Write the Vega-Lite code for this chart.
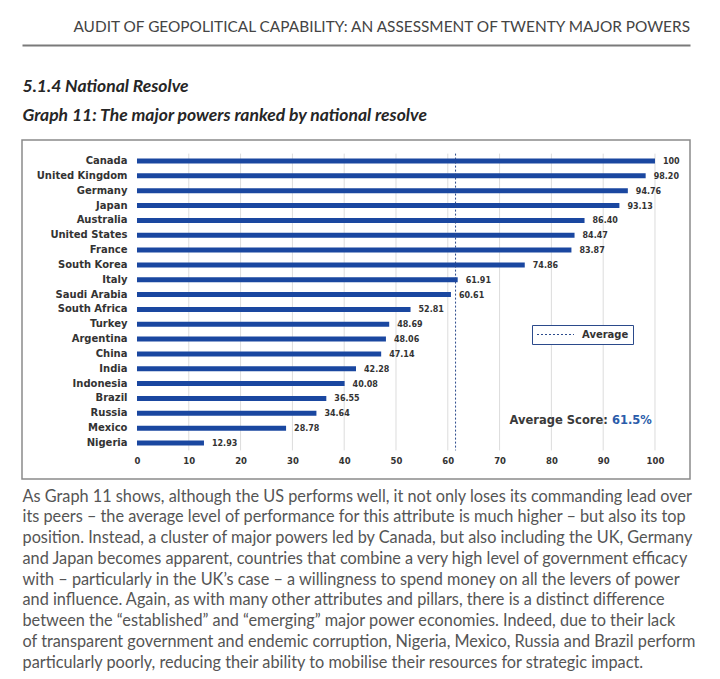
{
  "$schema": "https://vega.github.io/schema/vega-lite/v6.json",
  "width": 668,
  "height": 339,
  "autosize": {"type": "none"},
  "padding": {"left": 22, "top": 140, "right": 30, "bottom": 200},
  "background": "white",
  "config": {
    "view": {"stroke": "#8a8a8a", "strokeWidth": 1.5},
    "font": "DejaVu Sans"
  },
  "title": {
    "text": "AUDIT OF GEOPOLITICAL CAPABILITY: AN ASSESSMENT OF TWENTY MAJOR POWERS",
    "anchor": "end",
    "frame": "group",
    "font": "Lato",
    "fontSize": 15.4,
    "fontWeight": "normal",
    "color": "#444444",
    "baseline": "alphabetic",
    "offset": -2
  },
  "datasets": {
    "scores": [
      {"country": "Canada", "score": 100},
      {"country": "United Kingdom", "score": 98.20},
      {"country": "Germany", "score": 94.76},
      {"country": "Japan", "score": 93.13},
      {"country": "Australia", "score": 86.40},
      {"country": "United States", "score": 84.47},
      {"country": "France", "score": 83.87},
      {"country": "South Korea", "score": 74.86},
      {"country": "Italy", "score": 61.91},
      {"country": "Saudi Arabia", "score": 60.61},
      {"country": "South Africa", "score": 52.81},
      {"country": "Turkey", "score": 48.69},
      {"country": "Argentina", "score": 48.06},
      {"country": "China", "score": 47.14},
      {"country": "India", "score": 42.28},
      {"country": "Indonesia", "score": 40.08},
      {"country": "Brazil", "score": 36.55},
      {"country": "Russia", "score": 34.64},
      {"country": "Mexico", "score": 28.78},
      {"country": "Nigeria", "score": 12.93}
    ],
    "grid": [
      {"tick": 10}, {"tick": 20}, {"tick": 30}, {"tick": 40}, {"tick": 50},
      {"tick": 60}, {"tick": 70}, {"tick": 80}, {"tick": 90}, {"tick": 100}
    ],
    "avg": [{"average": 61.5}]
  },
  "resolve": {"axis": {"x": "independent"}},
  "layer": [
    {
      "data": {"name": "grid"},
      "mark": {"type": "rule", "color": "#dcdcdc", "strokeWidth": 1},
      "encoding": {
        "x": {
          "field": "tick",
          "type": "quantitative",
          "scale": {"domain": [-22.2, 106.76], "nice": false, "zero": false},
          "axis": {
            "orient": "top",
            "offset": 95,
            "domain": true,
            "domainColor": "#7a7a7a",
            "domainWidth": 2,
            "labels": false,
            "ticks": false,
            "grid": false,
            "title": ["5.1.4 National Resolve", "Graph 11: The major powers ranked by national resolve"],
            "titleFont": "Lato",
            "titleFontSize": 17.5,
            "titleFontWeight": "bold",
            "titleFontStyle": "italic",
            "titleColor": "#262626",
            "titleAlign": "left",
            "titleAnchor": "start",
            "titleAngle": 0,
            "titleX": 0,
            "titleY": 46,
            "titleBaseline": "alphabetic",
            "titleLineHeight": 29.5
          }
        },
        "y": {"datum": "Canada", "type": "nominal", "bandPosition": 0},
        "y2": {"datum": "Nigeria", "bandPosition": 1}
      }
    },
    {
      "data": {"name": "scores"},
      "mark": {"type": "bar", "color": "#1a47a0", "height": 5},
      "encoding": {
        "x": {
          "field": "score",
          "type": "quantitative",
          "axis": {
            "orient": "bottom",
            "offset": -22.5,
            "values": [0, 10, 20, 30, 40, 50, 60, 70, 80, 90, 100],
            "domain": false,
            "ticks": false,
            "tickSize": 0,
            "grid": false,
            "labelPadding": 0,
            "labelFont": "DejaVu Sans",
            "labelFontWeight": "bold",
            "labelFontSize": 8.5,
            "labelColor": "#333333",
            "labelBaseline": "top",
            "title": [
              "As Graph 11 shows, although the US performs well, it not only loses its commanding lead over",
              "its peers – the average level of performance for this attribute is much higher – but also its top",
              "position. Instead, a cluster of major powers led by Canada, but also including the UK, Germany",
              "and Japan becomes apparent, countries that combine a very high level of government efficacy",
              "with – particularly in the UK’s case – a willingness to spend money on all the levers of power",
              "and influence. Again, as with many other attributes and pillars, there is a distinct difference",
              "between the “established” and “emerging” major power economies. Indeed, due to their lack",
              "of transparent government and endemic corruption, Nigeria, Mexico, Russia and Brazil perform",
              "particularly poorly, reducing their ability to mobilise their resources for strategic impact."
            ],
            "titleFont": "Lato",
            "titleFontSize": 16.3,
            "titleFontWeight": "normal",
            "titleColor": "#555555",
            "titleAlign": "left",
            "titleAnchor": "start",
            "titleAngle": 0,
            "titleX": 0,
            "titleY": 44.5,
            "titleBaseline": "alphabetic",
            "titleLineHeight": 20.75
          }
        },
        "x2": {"datum": 0},
        "y": {
          "field": "country",
          "type": "nominal",
          "scale": {
            "domain": ["Canada", "United Kingdom", "Germany", "Japan", "Australia", "United States", "France", "South Korea", "Italy", "Saudi Arabia", "South Africa", "Turkey", "Argentina", "China", "India", "Indonesia", "Brazil", "Russia", "Mexico", "Nigeria"],
            "range": [13.6, 310.4],
            "paddingInner": 0,
            "paddingOuter": 0
          },
          "axis": {
            "orient": "left",
            "offset": -105,
            "domain": false,
            "ticks": false,
            "tickSize": 0,
            "grid": false,
            "labelPadding": 0,
            "labelFont": "DejaVu Sans",
            "labelFontWeight": "bold",
            "labelFontSize": 10,
            "labelColor": "#333333",
            "title": null
          }
        }
      }
    },
    {
      "data": {"name": "scores"},
      "mark": {"type": "text", "align": "left", "baseline": "middle", "dx": 8, "dy": 1, "font": "DejaVu Sans", "fontWeight": "bold", "fontSize": 8, "color": "#333333"},
      "encoding": {
        "x": {"field": "score", "type": "quantitative", "axis": null},
        "y": {"field": "country", "type": "nominal"},
        "text": {
          "condition": {"test": "datum.score === 100", "value": "100"},
          "field": "score",
          "type": "quantitative",
          "format": ".2f"
        }
      }
    },
    {
      "data": {"name": "avg"},
      "mark": {"type": "rule", "color": "#2b4a8b", "strokeWidth": 1},
      "encoding": {
        "x": {"field": "average", "type": "quantitative", "axis": null},
        "y": {"datum": "Canada", "type": "nominal", "bandPosition": 0},
        "y2": {"datum": "Nigeria", "bandPosition": 1},
        "strokeDash": {
          "datum": "Average",
          "type": "nominal",
          "scale": {"range": [[2, 2]]},
          "legend": {
            "orient": "none",
            "legendX": 510,
            "legendY": 185,
            "direction": "horizontal",
            "title": null,
            "symbolType": "stroke",
            "symbolSize": 1369,
            "symbolStrokeColor": "#2b4a8b",
            "symbolStrokeWidth": 1.2,
            "clipHeight": 11,
            "labelFont": "DejaVu Sans",
            "labelFontWeight": "bold",
            "labelFontSize": 10,
            "labelColor": "#333333",
            "labelOffset": 7,
            "padding": 4,
            "strokeColor": "#2b4a8b",
            "fillColor": "white"
          }
        }
      }
    },
    {
      "data": {"name": "avg"},
      "mark": {"type": "text", "align": "right", "baseline": "middle", "dx": -44, "font": "DejaVu Sans", "fontWeight": "bold", "fontSize": 11.5, "color": "#3a3a3a",
        "text": "Average Score:"},
      "encoding": {
        "x": {"datum": 99.4, "type": "quantitative", "axis": null},
        "y": {"datum": "Russia", "type": "nominal", "bandPosition": 1.05}
      }
    },
    {
      "data": {"name": "avg"},
      "mark": {"type": "text", "align": "right", "baseline": "middle", "font": "DejaVu Sans", "fontWeight": "bold", "fontSize": 11.5, "color": "#2a5caa",
        "text": {"expr": "format(datum.average, '.1f') + '%'"}},
      "encoding": {
        "x": {"datum": 99.4, "type": "quantitative", "axis": null},
        "y": {"datum": "Russia", "type": "nominal", "bandPosition": 1.05}
      }
    }
  ]
}
